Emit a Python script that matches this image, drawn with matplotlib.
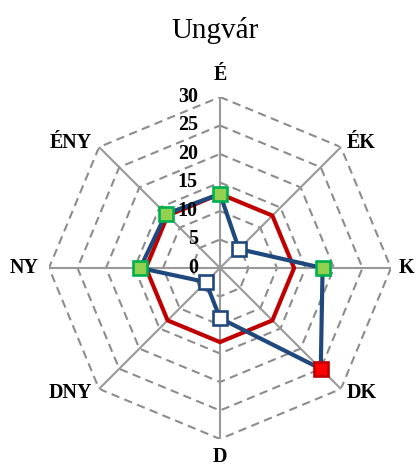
import numpy as np
import matplotlib
matplotlib.use("Agg")
from matplotlib import pyplot as plt

# wind direction frequencies (%)
directions = ["É", "ÉK", "K", "DK", "D", "DNY", "NY", "ÉNY"]
freq = [13.0, 4.7, 18.0, 25.0, 8.8, 3.5, 14.0, 13.4]
mean_level = [13.0] * 8
ticks = [0, 5, 10, 15, 20, 25, 30]

plt.rcParams["font.family"] = ["Liberation Serif", "DejaVu Serif"]

fig = plt.figure(figsize=(4.18, 4.66), dpi=100)
ax = fig.add_axes([0.1172, 0.0579, 0.8182, 0.734], projection="polar")
ax.set_theta_zero_location("N")
ax.set_theta_direction(-1)
ax.set_axis_off()
ax.set_ylim(0, 30)

theta = np.arange(len(directions)) * 2 * np.pi / len(directions)
theta_c = np.append(theta, theta[0])

grey = "#8c8c8c"
# octagonal dashed rings
for r in ticks[1:]:
    ax.plot(theta_c, [r] * len(theta_c), color=grey, lw=1.5, ls=(0, (4, 2.6)), zorder=1)
# spokes
for t in theta:
    ax.plot([t, t], [0, ticks[-1]], color="#999999", lw=1.5, zorder=1)

# mean level
ax.plot(theta_c, np.append(mean_level, mean_level[0]), color="#c00000", lw=3, zorder=2)

# measured frequencies
ax.plot(theta_c, np.append(freq, freq[0]), color="#1f497d", lw=3, zorder=3)
fmax = max(freq)
for t, v, m in zip(theta, freq, mean_level):
    if v == fmax:
        fc, ec = "#ff0000", "#c00000"
    elif v >= m:
        fc, ec = "#92d050", "#00b050"
    else:
        fc, ec = "white", "#1f497d"
    ax.plot([t], [v], marker="s", ms=9.8, mfc=fc, mec=ec, mew=1.9, zorder=4, clip_on=False)

# radial tick labels along the north spoke
for r in ticks:
    ax.annotate(str(r), xy=(0, r), xytext=(-16, 0), textcoords="offset points",
                ha="right", va="center", fontsize=14.4, fontweight="bold",
                annotation_clip=False)

# direction labels just beyond the spoke ends
label_pos = [((0, 8.6), "center", "bottom"),
             ((4.3, 2.9), "left", "center"),
             ((5.8, 0), "left", "center"),
             ((4.3, -2.9), "left", "center"),
             ((0, -5.5), "center", "top"),
             ((-5, -2.9), "right", "center"),
             ((-7.2, 0), "right", "center"),
             ((-5, 2.9), "right", "center")]
for t, name, (off, ha, va) in zip(theta, directions, label_pos):
    ax.annotate(name, xy=(t, ticks[-1]), xytext=off, textcoords="offset points",
                ha=ha, va=va, fontsize=14.4, fontweight="bold",
                annotation_clip=False)

fig.text(0.515, 1 - 30 / 466, "Ungvár", ha="center", va="center", fontsize=21)

fig.savefig("out.png", dpi=100)
